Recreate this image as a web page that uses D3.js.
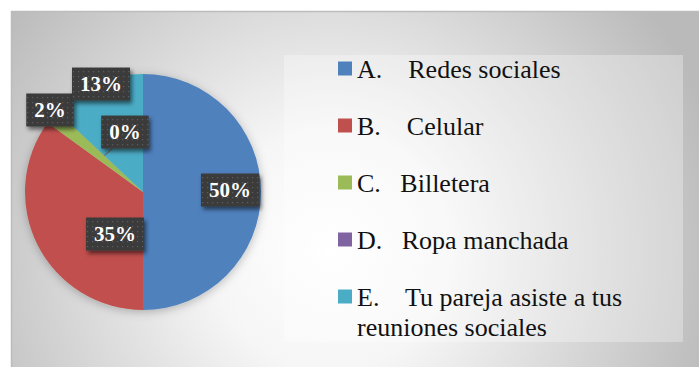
<!DOCTYPE html>
<html>
<head>
<meta charset="utf-8">
<script src="https://cdn.jsdelivr.net/npm/d3@7"></script>
<style>
  svg text { font-family: "Liberation Serif", "Times New Roman", Times, serif; }
</style>
</head>
<body style="margin:0;background:#ffffff">
<script>
// Survey answers and their shares (percent)
const categories = ["A", "B", "C", "D", "E"];
const legendLines = [
  ["A.    Redes sociales"],
  ["B.    Celular"],
  ["C.   Billetera"],
  ["D.   Ropa manchada"],
  ["E.    Tu pareja asiste a tus", "reuniones sociales"]
];
const values = [50, 35, 2, 0, 13];
const colors = ["#4f81bd", "#c0504d", "#9bbb59", "#8064a2", "#4bacc6"];

const FONT = '"Liberation Serif", "Times New Roman", Times, serif';

const W = 699, H = 367;
const svg = d3.select("body").append("svg")
  .attr("width", W).attr("height", H)
  .style("display", "block");

const defs = svg.append("defs");

// radial background of the chart area
const bg = defs.append("radialGradient")
  .attr("id", "bgGrad")
  .attr("gradientUnits", "userSpaceOnUse")
  .attr("cx", 330).attr("cy", 250).attr("r", 400);
bg.append("stop").attr("offset", 0).attr("stop-color", "#ffffff");
bg.append("stop").attr("offset", 0.3).attr("stop-color", "#f6f6f6");
bg.append("stop").attr("offset", 1).attr("stop-color", "#bababa");

// dotted texture for the value labels
const pat = defs.append("pattern")
  .attr("id", "dots").attr("patternUnits", "userSpaceOnUse")
  .attr("width", 5).attr("height", 5);
pat.append("rect").attr("width", 5).attr("height", 5).attr("fill", "#3b3b3b");
pat.append("rect").attr("x", 2).attr("y", 2).attr("width", 1.2).attr("height", 1.2).attr("fill", "#5e5e5e");

const shadow = defs.append("filter").attr("id", "lblShadow")
  .attr("x", "-30%").attr("y", "-30%").attr("width", "170%").attr("height", "180%");
shadow.append("feDropShadow").attr("dx", 2).attr("dy", 3)
  .attr("stdDeviation", 2).attr("flood-color", "#000").attr("flood-opacity", 0.55);

const pieShadow = defs.append("filter").attr("id", "pieShadow")
  .attr("x", "-20%").attr("y", "-20%").attr("width", "140%").attr("height", "140%");
pieShadow.append("feDropShadow").attr("dx", 0).attr("dy", 2)
  .attr("stdDeviation", 5).attr("flood-color", "#000").attr("flood-opacity", 0.25);

// chart frame
svg.append("rect")
  .attr("x", 11).attr("y", 11).attr("width", W - 11).attr("height", H - 11)
  .attr("fill", "url(#bgGrad)");
svg.append("path")
  .attr("d", `M11.5,${H} V11.5 H${W}`)
  .attr("fill", "none").attr("stroke", "#bcbcbc").attr("stroke-width", 1.5);

// pie
const cx = 143, cy = 192, R = 118;
const pie = d3.pie().sort(null).value(d => d)
  .startAngle(0).endAngle(2 * Math.PI);
const arcs = pie(values);
const arc = d3.arc().innerRadius(0).outerRadius(R);

const gPie = svg.append("g")
  .attr("transform", `translate(${cx},${cy})`);
gPie.append("g").attr("filter", "url(#pieShadow)")
  .selectAll("path").data(arcs).join("path")
  .attr("d", arc)
  .attr("fill", (d, i) => colors[i]);

// value label placement, as fractions of the radius from the centre
const labelPlacement = [
  [0.737, -0.017],
  [-0.237, 0.356],
  [-0.788, -0.695],
  [-0.153, -0.508],
  [-0.356, -0.915]
];

// leader line for the zero-width slice
const dArc = arcs[3];
const dAngle = dArc.startAngle;
const leaderEnd = [Math.sin(dAngle) * R * 0.45, -Math.cos(dAngle) * R * 0.45];
const dPos = labelPlacement[3];
gPie.append("line")
  .attr("x1", dPos[0] * R - 12).attr("y1", dPos[1] * R + 16)
  .attr("x2", leaderEnd[0]).attr("y2", leaderEnd[1])
  .attr("stroke", "#6e6e6e").attr("stroke-width", 1.2);

const labels = gPie.selectAll("g.lbl").data(arcs).join("g")
  .attr("class", "lbl")
  .attr("transform", (d, i) => `translate(${labelPlacement[i][0] * R},${labelPlacement[i][1] * R})`);

// label box width from the bold serif glyph advances (digits 0.5em, % 1em)
const LBL_SIZE = 21;
const lblWidth = v => (String(v).length * 0.5 + 1.0) * LBL_SIZE;

labels.append("rect")
  .attr("x", (d, i) => -lblWidth(values[i]) / 2 - 8)
  .attr("y", -16.5)
  .attr("width", (d, i) => lblWidth(values[i]) + 16)
  .attr("height", 33)
  .attr("fill", "url(#dots)")
  .attr("filter", "url(#lblShadow)");
labels.append("text")
  .attr("text-anchor", "middle")
  .attr("y", 7)
  .attr("font-size", LBL_SIZE)
  .attr("font-weight", "bold")
  .attr("fill", "#ffffff")
  .style("font-family", FONT)
  .text((d, i) => values[i] + "%");

// legend
const legend = svg.append("g");
legend.append("rect")
  .attr("x", 284).attr("y", 55).attr("width", 399).attr("height", 287)
  .attr("fill", "#ffffff").attr("fill-opacity", 0.3);

const rowY = d3.scalePoint().domain(categories).range([78, 306]);
const rows = legend.selectAll("g.row").data(categories).join("g")
  .attr("class", "row")
  .attr("transform", d => `translate(0,${rowY(d)})`);
rows.append("rect")
  .attr("x", 338).attr("y", -16.5).attr("width", 14).attr("height", 14)
  .attr("fill", (d, i) => colors[i]);
const legendText = rows.append("text")
  .attr("x", 357)
  .attr("font-size", 26)
  .attr("fill", "#111")
  .style("font-family", FONT)
  .style("white-space", "pre");
legendText.selectAll("tspan")
  .data((d, i) => legendLines[i])
  .join("tspan")
  .attr("x", 357)
  .attr("dy", (d, j) => j === 0 ? 0 : 30)
  .text(d => d);

// re-apply the serif face once the font set is ready
if (document.fonts && document.fonts.ready) {
  document.fonts.ready.then(() => {
    svg.selectAll("text").style("font-family", null).style("font-family", FONT);
  });
}
</script>
</body>
</html>
